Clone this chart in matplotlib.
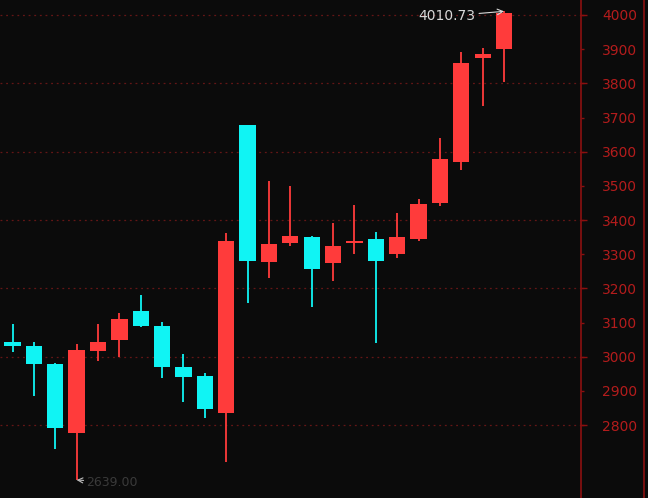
import matplotlib
matplotlib.use("Agg")
import matplotlib.pyplot as plt
import matplotlib.ticker as ticker
from matplotlib.lines import Line2D

# daily candles (open, high, low, close)
opens = [3043.8, 3032.1, 2977.7, 2776.6, 3017.5, 3049.7, 3134.6, 3090.6, 2969.8, 2944.3, 2835.1, 3677.2,
         3278.0, 3331.8, 3351.1, 3274.2, 3333.6, 3343.5, 3299.6, 3343.5, 3450.6, 3569.8, 3875.0, 3899.6]
highs = [3095.6, 3042.9, 2981.5, 3036.2, 3095.6, 3128.7, 3179.6, 3101.5, 3007.8, 2951.3, 3361.1, 3678.0,
         3514.1, 3498.6, 3353.2, 3391.2, 3443.0, 3364.9, 3420.5, 3462.3, 3640.9, 3892.6, 3902.5, 4010.73]
lows = [3013.7, 2885.8, 2728.9, 2639.0, 2988.2, 2998.2, 3087.7, 2936.7, 2867.3, 2821.4, 2690.8, 3156.2,
        3229.4, 3324.8, 3146.3, 3222.4, 3301.4, 3040.9, 3287.9, 3340.0, 3441.9, 3545.5, 3733.7, 3803.9]
closes = [3032.1, 2977.7, 2791.2, 3018.6, 3043.8, 3110.3, 3090.6, 2969.8, 2941.4, 2846.0, 3339.4, 3280.9,
          3328.9, 3354.1, 3255.7, 3324.8, 3339.4, 3280.9, 3351.1, 3446.0, 3577.7, 3858.6, 3885.0, 4005.0]

label_levels = list(range(2800, 4001, 100))
grid_levels = list(range(2800, 4001, 200))

up_col = "#ff3b3b"
down_col = "#10f4f4"
bg = "#0b0b0b"
axis_col = "#8c1010"
label_col = "#b41c1c"

fig = plt.figure(figsize=(6.48, 4.98), dpi=100, facecolor=bg)
ax = fig.add_axes([0, 0, 581 / 648, 1])
ax.set_facecolor(bg)
ax.set_axisbelow(True)

for i in range(len(opens)):
    o, h, l, c = opens[i], highs[i], lows[i], closes[i]
    col = up_col if c >= o else down_col
    ax.vlines(i, l, h, color=col, linewidth=1.3, zorder=2)
    ax.bar(i, abs(c - o), bottom=min(o, c), width=0.763, color=col, linewidth=0, zorder=3)

ax.set_xlim(-0.585, 26.6)
ax.set_ylim(2586.4, 4043.9)

# right price axis
for s in ["top", "bottom", "left"]:
    ax.spines[s].set_visible(False)
ax.spines["right"].set_color(axis_col)
ax.spines["right"].set_linewidth(1.2)
ax.set_xticks([])
ax.yaxis.tick_right()
ax.yaxis.set_major_locator(ticker.FixedLocator(label_levels))
ax.yaxis.set_minor_locator(ticker.FixedLocator(grid_levels))
ax.yaxis.remove_overlapping_locs = False
ax.tick_params(axis="y", which="major", length=2, width=1, color=axis_col,
               labelcolor=label_col, labelsize=10, pad=13)
ax.tick_params(axis="y", which="minor", length=4.5, width=1, color=axis_col)
ax.grid(which="minor", axis="y", color="#641616", linestyle=(0, (1.5, 3)), linewidth=0.9, zorder=0)
ax.grid(which="major", visible=False)

# outer border line on the far right
fig.add_artist(Line2D([644 / 648, 644 / 648], [0, 1], transform=fig.transFigure,
                      color=axis_col, linewidth=1.2))

# high / low markers
hi = highs.index(max(highs))
ax.annotate(f"{highs[hi]:.2f}", xy=(hi, highs[hi]), xytext=(-21, -3.5), textcoords="offset points",
            ha="right", va="center", color="#d8d8d8", fontsize=10,
            arrowprops=dict(arrowstyle="->", color="#d8d8d8", lw=0.8, shrinkA=1, shrinkB=0))
lo = lows.index(min(lows))
ax.annotate(f"{lows[lo]:.2f}", xy=(lo, lows[lo]), xytext=(7, -1.5), textcoords="offset points",
            ha="left", va="center", color="#3a3a3a", fontsize=9,
            arrowprops=dict(arrowstyle="->", color="#bdbdbd", lw=0.8, shrinkA=0, shrinkB=0))

fig.savefig("out.png", dpi=100, facecolor=bg)
